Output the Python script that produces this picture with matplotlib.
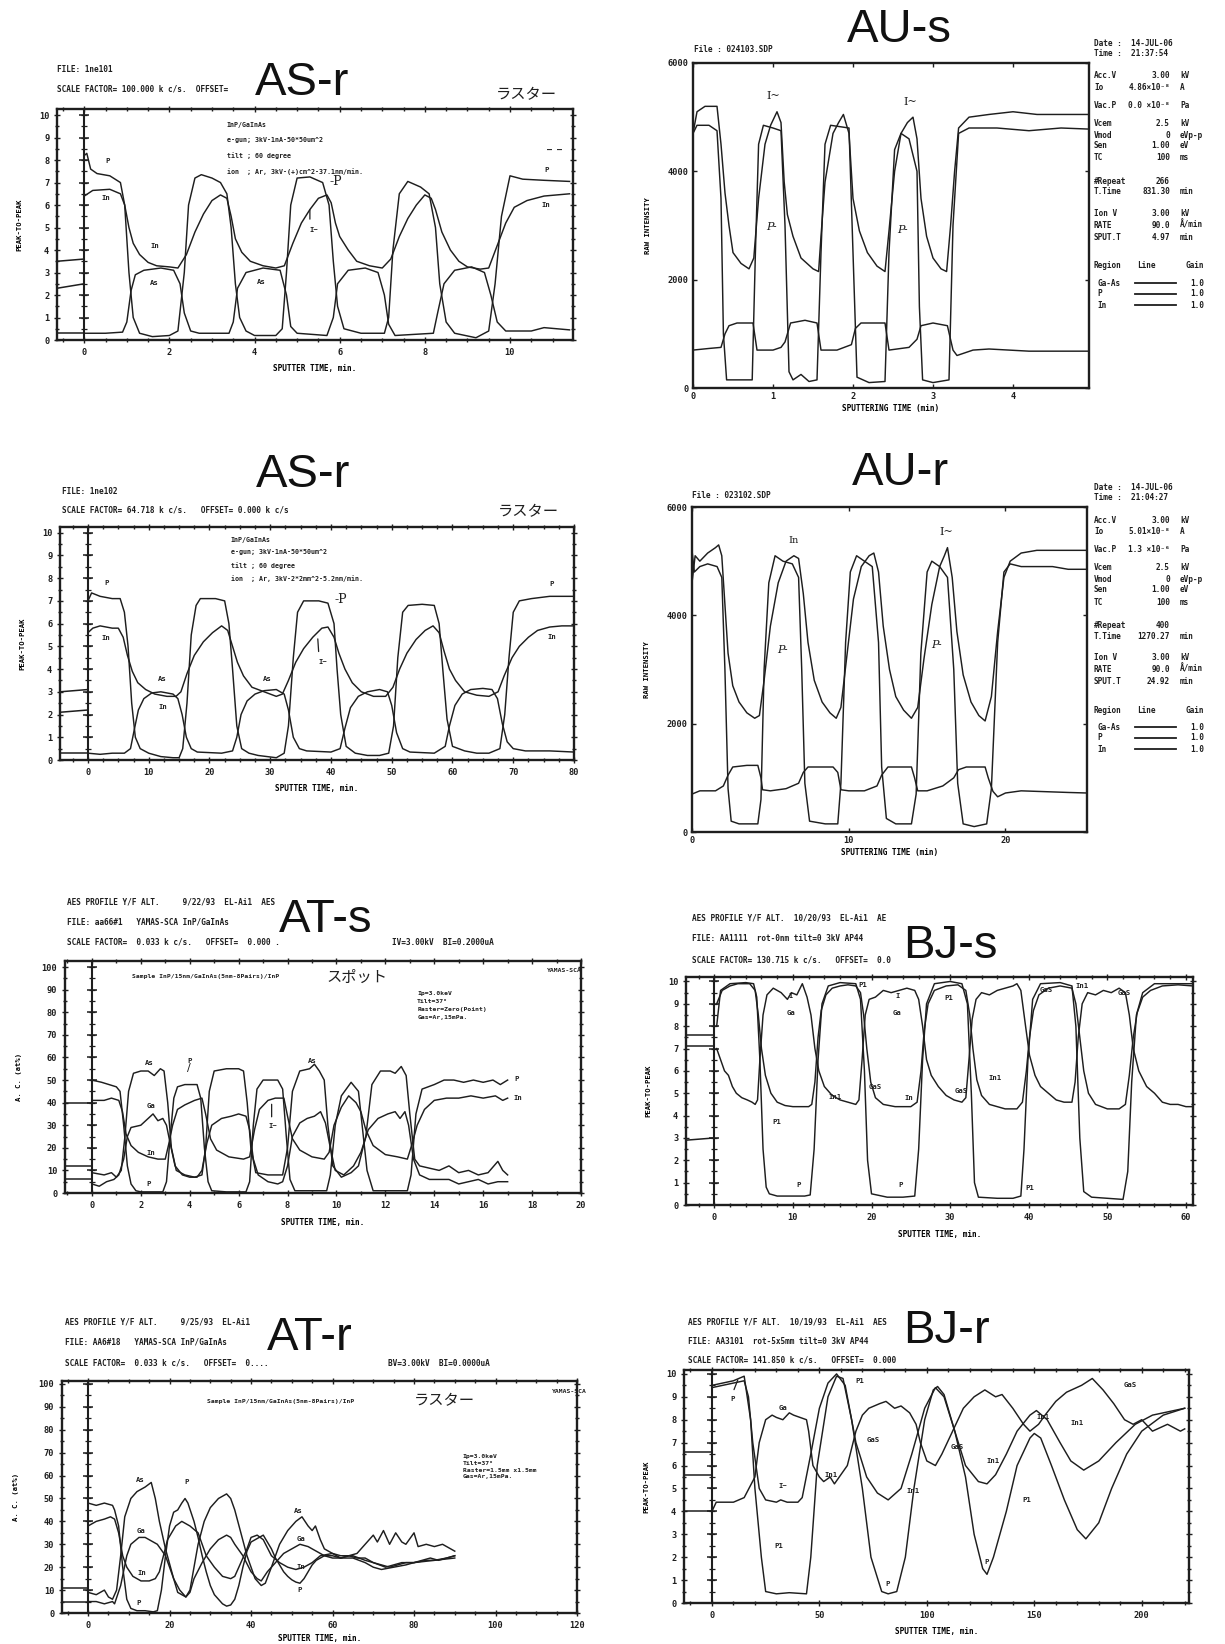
import matplotlib
matplotlib.use("Agg")
import matplotlib.pyplot as plt
from matplotlib.ticker import MultipleLocator, FixedLocator
from matplotlib.lines import Line2D

# ---------------------------------------------------------------- data
# Panel 1  AS-r (raster, min)
p1_pre = [(3.5, 3.6), (2.3, 2.5), (0.3, 0.3)]
p1_P = [(0,8.2),(0.06,8.3),(0.15,7.6),(0.3,7.4),(0.6,7.3),(0.85,7.0),(0.95,6.0),(1.05,3.0),(1.15,1.0),(1.3,0.3),(1.6,0.15),(2.0,0.2),(2.2,0.4),(2.35,3.0),(2.45,6.0),(2.6,7.2),(2.75,7.35),(3.0,7.2),(3.2,7.0),(3.35,6.5),(3.45,5.0),(3.55,2.5),(3.65,1.0),(3.8,0.4),(4.0,0.2),(4.5,0.2),(4.65,0.5),(4.75,3.0),(4.85,6.0),(5.0,7.2),(5.3,7.25),(5.6,7.0),(5.75,6.0),(5.85,3.5),(5.95,1.5),(6.1,0.5),(6.5,0.3),(7.05,0.3),(7.15,1.0),(7.25,4.0),(7.4,6.5),(7.6,7.05),(7.9,6.8),(8.1,6.5),(8.25,5.0),(8.35,2.5),(8.5,0.8),(8.7,0.3),(9.2,0.1),(9.5,0.4),(9.65,2.5),(9.8,5.5),(10.0,7.3),(10.3,7.15),(10.8,7.1),(11.4,7.05)]
p1_In = [(0,6.4),(0.2,6.65),(0.6,6.7),(0.85,6.5),(0.95,6.0),(1.05,5.0),(1.15,4.3),(1.3,3.8),(1.5,3.45),(1.7,3.3),(2.0,3.25),(2.2,3.2),(2.4,3.8),(2.6,4.8),(2.8,5.6),(3.0,6.2),(3.2,6.45),(3.35,6.3),(3.45,5.5),(3.55,4.5),(3.7,3.9),(3.9,3.5),(4.2,3.3),(4.5,3.2),(4.7,3.3),(4.9,4.3),(5.1,5.2),(5.3,5.8),(5.5,6.3),(5.7,6.45),(5.8,6.1),(5.9,5.2),(6.0,4.6),(6.2,4.0),(6.4,3.5),(6.7,3.3),(7.0,3.2),(7.2,3.6),(7.4,4.6),(7.6,5.4),(7.8,6.0),(8.0,6.45),(8.15,6.3),(8.25,5.8),(8.4,4.8),(8.6,4.0),(8.8,3.5),(9.0,3.25),(9.3,3.15),(9.5,3.2),(9.7,4.2),(9.9,5.2),(10.1,5.9),(10.4,6.2),(10.8,6.4),(11.4,6.5)]
p1_As = [(0,0.3),(0.5,0.3),(0.9,0.35),(1.0,0.8),(1.1,2.2),(1.2,2.9),(1.4,3.1),(1.8,3.2),(2.1,3.1),(2.25,2.5),(2.35,1.2),(2.5,0.4),(2.7,0.3),(3.4,0.3),(3.5,0.8),(3.6,2.3),(3.8,3.0),(4.2,3.2),(4.6,3.1),(4.75,2.0),(4.85,0.6),(5.0,0.3),(5.7,0.2),(5.85,1.0),(5.95,2.5),(6.2,3.1),(6.6,3.2),(6.9,3.0),(7.05,2.0),(7.15,0.7),(7.3,0.2),(8.2,0.3),(8.3,1.2),(8.45,2.5),(8.7,3.1),(9.1,3.25),(9.4,3.0),(9.55,2.0),(9.7,0.8),(9.9,0.4),(10.5,0.4),(10.8,0.55),(11.4,0.45)]

# Panel 2  AU-s (min, counts)
p2_In = [(0,4700),(0.05,5100),(0.15,5200),(0.3,5200),(0.35,4500),(0.4,3600),(0.45,3000),(0.5,2500),(0.6,2300),(0.7,2200),(0.76,2400),(0.82,3500),(0.9,4500),(0.97,4850),(1.05,5100),(1.1,4900),(1.14,3800),(1.18,3200),(1.25,2800),(1.35,2400),(1.5,2200),(1.57,2150),(1.6,2800),(1.65,3800),(1.75,4700),(1.82,4900),(1.88,5050),(1.95,4700),(2.0,3500),(2.08,2900),(2.18,2500),(2.3,2250),(2.4,2150),(2.45,2900),(2.52,4000),(2.6,4700),(2.68,4900),(2.75,5000),(2.8,4600),(2.85,3500),(2.92,2800),(3.0,2400),(3.1,2200),(3.17,2150),(3.22,3000),(3.27,4000),(3.32,4800),(3.45,5000),(3.7,5050),(4.0,5100),(4.3,5050),(4.6,5050),(4.95,5050)]
p2_P = [(0,4700),(0.05,4850),(0.2,4850),(0.3,4750),(0.35,3500),(0.38,1000),(0.42,150),(0.6,150),(0.74,150),(0.78,2500),(0.82,4500),(0.88,4850),(1.0,4800),(1.1,4750),(1.15,3000),(1.2,300),(1.25,150),(1.35,250),(1.45,120),(1.55,150),(1.6,2500),(1.65,4500),(1.72,4850),(1.95,4800),(2.0,2500),(2.05,200),(2.2,100),(2.4,120),(2.45,2500),(2.52,4400),(2.6,4700),(2.7,4600),(2.8,4000),(2.83,1500),(2.87,150),(3.0,100),(3.2,150),(3.25,3000),(3.32,4700),(3.45,4800),(3.8,4800),(4.2,4750),(4.6,4800),(4.95,4780)]
p2_GaAs = [(0,700),(0.2,730),(0.35,750),(0.4,1000),(0.45,1150),(0.55,1200),(0.75,1200),(0.8,700),(1.0,700),(1.1,750),(1.15,850),(1.22,1200),(1.4,1250),(1.55,1200),(1.6,700),(1.8,700),(1.98,800),(2.03,1100),(2.1,1200),(2.4,1200),(2.45,700),(2.7,750),(2.8,900),(2.85,1150),(3.0,1200),(3.18,1150),(3.25,700),(3.3,600),(3.5,700),(3.7,720),(4.2,680),(4.95,680)]

# Panel 3  AS-r (raster, 80 min)
p3_pre = [(3.0, 3.1), (2.1, 2.2), (0.3, 0.3)]
p3_P = [(0,7.0),(0.6,7.35),(2,7.2),(4,7.1),(5.3,7.1),(6,6.5),(6.6,5.0),(7.2,2.5),(7.8,1.0),(8.6,0.5),(10,0.3),(12,0.15),(14,0.1),(15,0.1),(15.6,0.5),(16.3,2.5),(17,5.5),(17.8,6.8),(18.5,7.1),(21,7.1),(22.5,7.0),(23.2,6.0),(23.8,4.0),(24.5,1.5),(25.3,0.5),(26.5,0.3),(28,0.2),(31,0.1),(32.3,0.3),(33,1.5),(33.8,4.5),(34.5,6.5),(35.5,7.0),(38,7.0),(39.5,6.9),(40.5,6.0),(41,4.0),(41.6,2.0),(42.5,0.6),(44,0.3),(46,0.2),(48,0.2),(49.5,0.3),(50.3,1.5),(51,4.5),(51.8,6.5),(52.7,6.8),(55,6.85),(57,6.8),(57.8,6.0),(58.4,4.0),(59.1,1.8),(60,0.6),(62,0.4),(64,0.3),(66,0.3),(67.8,0.5),(68.6,2.0),(69.3,4.5),(70,6.5),(71,7.0),(73,7.1),(76,7.2),(78,7.2),(80,7.2)]
p3_In = [(0,5.6),(0.8,5.8),(2,5.9),(4,5.8),(5,5.8),(5.8,5.4),(6.5,4.6),(7.3,3.9),(8.2,3.4),(9.5,3.1),(11,2.9),(13,2.8),(14.5,2.8),(15.3,3.0),(16.3,3.8),(17.5,4.6),(19,5.2),(20.5,5.6),(22,5.9),(23,5.7),(23.8,5.0),(24.6,4.3),(25.6,3.7),(27,3.2),(29,3.0),(31,2.8),(32,2.9),(33,3.5),(34.2,4.3),(35.5,4.9),(37,5.4),(38.5,5.8),(39.5,5.85),(40.5,5.4),(41.3,4.7),(42.3,4.0),(43.5,3.4),(45,3.0),(47,2.8),(49,2.8),(50.2,3.2),(51.3,4.0),(52.5,4.7),(54,5.3),(55.5,5.7),(56.8,5.9),(57.8,5.6),(58.6,4.8),(59.5,4.0),(60.5,3.5),(62,3.0),(64,2.85),(66,2.8),(67.5,3.0),(68.5,3.7),(69.8,4.5),(71,5.0),(72.5,5.4),(74,5.7),(76,5.85),(78,5.9),(80,5.9)]
p3_As = [(0,0.3),(2,0.25),(4,0.3),(6,0.3),(7,0.5),(7.6,1.3),(8.3,2.2),(9.2,2.7),(10.5,2.95),(12,3.0),(14,2.9),(14.8,2.7),(15.5,2.0),(16.2,1.0),(17,0.5),(18,0.35),(22,0.3),(23.8,0.4),(24.5,1.0),(25.2,2.0),(26.2,2.6),(27.5,2.9),(29,3.05),(31,3.1),(32.3,2.9),(33,2.2),(33.8,1.0),(34.8,0.5),(36,0.4),(40,0.35),(41.5,0.5),(42.3,1.4),(43.2,2.3),(44.5,2.8),(46,3.0),(48,3.1),(49.3,3.0),(50,2.4),(50.8,1.2),(51.8,0.5),(53,0.35),(57,0.3),(58.8,0.6),(59.5,1.5),(60.4,2.4),(61.6,2.9),(63,3.1),(65,3.15),(66.5,3.1),(67.4,2.7),(68.2,1.6),(69,0.8),(70,0.5),(72,0.4),(76,0.4),(80,0.35)]

# Panel 4  AU-r (min, counts)
p4_In = [(0,4600),(0.2,5100),(0.5,5000),(1.0,5150),(1.5,5250),(1.7,5300),(1.9,5100),(2.1,4200),(2.3,3300),(2.6,2700),(3.0,2400),(3.5,2200),(4.0,2100),(4.3,2150),(4.6,2800),(5.0,3800),(5.5,4600),(6.0,5000),(6.5,5100),(6.8,5050),(7.1,4400),(7.4,3500),(7.8,2800),(8.3,2400),(8.8,2200),(9.2,2100),(9.5,2300),(9.9,3300),(10.3,4300),(10.8,4900),(11.3,5100),(11.6,5150),(11.9,4800),(12.2,3800),(12.6,3000),(13.0,2500),(13.5,2250),(14.0,2100),(14.4,2300),(14.8,3200),(15.3,4200),(15.8,4900),(16.1,5100),(16.3,5250),(16.6,4700),(16.9,3700),(17.3,2900),(17.8,2400),(18.3,2150),(18.7,2050),(19.1,2500),(19.5,3700),(19.9,4700),(20.3,5000),(21,5150),(22,5200),(23,5200),(24,5200),(25.2,5200)]
p4_P = [(0,5200),(0.15,4800),(0.5,4900),(1.0,4950),(1.6,4900),(1.9,4700),(2.1,3000),(2.3,800),(2.5,200),(3,150),(3.5,150),(4.2,150),(4.4,600),(4.6,3000),(4.9,4600),(5.3,5100),(5.8,5000),(6.4,4950),(6.8,4700),(7.0,3000),(7.2,900),(7.5,200),(8.5,150),(9.3,150),(9.5,900),(9.8,3500),(10.1,4800),(10.5,5100),(11.0,5000),(11.5,4900),(11.9,3500),(12.1,1200),(12.4,250),(13,150),(14,150),(14.3,700),(14.6,3300),(15.0,4800),(15.3,5000),(15.8,4900),(16.3,4700),(16.7,3000),(16.95,900),(17.3,150),(18,100),(18.8,150),(19.1,800),(19.5,3500),(19.9,4800),(20.3,4950),(21,4900),(22,4900),(23,4900),(24,4850),(25.2,4850)]
p4_GaAs = [(0,700),(0.5,760),(1.5,760),(2.0,850),(2.3,1050),(2.6,1200),(3.5,1230),(4.2,1230),(4.4,1000),(4.5,780),(5,760),(6,800),(6.8,900),(7.1,1100),(7.4,1200),(9.0,1200),(9.3,1100),(9.5,780),(10,760),(11,760),(11.8,850),(12.1,1050),(12.5,1200),(14,1200),(14.2,1000),(14.4,760),(15,760),(16,850),(16.7,1000),(17,1150),(17.5,1200),(18.7,1200),(18.9,1000),(19.2,750),(19.5,650),(20,720),(21,760),(22,750),(23,740),(24,730),(25.2,720)]

# Panel 5  AT-s (spot, at%)
p5_pre = [(40, 40), (12, 12), (6, 6)]
p5_P = [(0,50),(0.4,49),(0.7,48),(1.0,47),(1.15,45),(1.3,30),(1.45,12),(1.6,4),(1.8,1),(2.0,0.5),(2.9,0.5),(3.05,5),(3.2,25),(3.35,42),(3.5,47),(3.8,48),(4.3,48),(4.45,42),(4.6,20),(4.75,5),(4.9,1),(5.5,0.5),(6.3,0.5),(6.45,5),(6.6,30),(6.75,46),(7.0,50),(7.6,50),(7.8,46),(7.95,25),(8.1,6),(8.3,1),(9.6,1),(9.75,8),(9.95,30),(10.2,43),(10.6,49),(10.9,45),(11.05,30),(11.25,10),(11.5,1),(12.9,1),(13.05,8),(13.25,35),(13.5,46),(14.0,48),(14.4,50),(14.8,50),(15.2,49),(15.6,50),(16.0,49),(16.4,50),(16.7,48),(17,50)]
p5_In = [(0,41),(0.5,41),(0.8,42),(1.1,41),(1.25,36),(1.4,26),(1.6,21),(1.9,18),(2.3,16),(2.7,15),(3.0,15),(3.15,22),(3.3,30),(3.5,37),(3.8,39),(4.2,41),(4.5,42),(4.65,35),(4.85,24),(5.1,19),(5.6,16),(6.2,15),(6.45,16),(6.65,28),(6.85,37),(7.2,41),(7.5,42),(7.85,42),(8.0,34),(8.2,24),(8.5,19),(9.0,16),(9.5,15),(9.7,18),(9.9,30),(10.2,38),(10.5,43),(10.8,40),(11.0,36),(11.2,28),(11.5,21),(12,17),(12.5,16),(12.9,15),(13.1,22),(13.3,30),(13.6,37),(14,41),(14.5,42),(15,42),(15.5,43),(16,42),(16.5,43),(16.8,41),(17,42)]
p5_As = [(0,9),(0.5,8),(0.8,9),(1.0,7),(1.2,10),(1.35,25),(1.5,45),(1.7,53),(2.0,54),(2.3,54),(2.55,52),(2.8,55),(2.95,54),(3.1,40),(3.25,20),(3.45,10),(3.8,8),(4.2,7),(4.5,8),(4.65,20),(4.8,45),(5.0,54),(5.5,55),(6.0,55),(6.2,54),(6.35,40),(6.5,20),(6.7,9),(7.2,8),(7.8,8),(8.0,20),(8.2,45),(8.5,54),(8.9,55),(9.1,57),(9.3,54),(9.5,50),(9.65,30),(9.85,12),(10.2,7),(10.6,9),(10.9,12),(11.2,25),(11.45,48),(11.8,54),(12.2,54),(12.4,53),(12.65,56),(12.85,52),(13.0,35),(13.2,15),(13.4,12),(13.8,11),(14.2,10),(14.6,12),(15.0,9),(15.4,10),(15.8,8),(16.2,9),(16.6,14),(16.8,10),(17,8)]
p5_Ga = [(0,4),(0.3,3),(0.6,5),(0.9,6),(1.1,8),(1.3,15),(1.45,25),(1.6,29),(2.0,30),(2.3,33),(2.5,35),(2.7,32),(2.9,33),(3.05,30),(3.2,22),(3.4,12),(3.7,8),(4.0,7),(4.3,7),(4.5,10),(4.7,22),(4.9,30),(5.3,33),(5.7,34),(6.0,35),(6.3,34),(6.45,28),(6.6,15),(6.8,8),(7.2,5),(7.6,4),(7.8,5),(8.0,12),(8.2,25),(8.5,31),(8.8,33),(9.1,34),(9.35,36),(9.55,31),(9.75,20),(9.95,10),(10.3,8),(10.7,12),(11.0,18),(11.3,28),(11.7,33),(12.1,35),(12.4,36),(12.6,33),(12.8,36),(12.95,30),(13.15,15),(13.4,8),(13.8,6),(14.2,6),(14.6,6),(15.0,4),(15.4,5),(15.8,6),(16.2,4),(16.6,5),(17,5)]

# Panel 6  BJ-s (spot)
p6_pre = [(7.6, 7.6), (7.1, 7.1), (2.9, 3.0)]
p6_P = [(0.3,8.0),(0.8,9.6),(2,9.9),(4,9.95),(5,9.9),(5.4,9.3),(5.8,6.5),(6.2,2.5),(6.6,0.8),(7,0.5),(8,0.4),(10,0.4),(11.5,0.4),(12.2,0.45),(12.7,2.5),(13.2,6.5),(13.7,9.0),(14.5,9.8),(16,9.95),(18,9.9),(18.6,9.2),(19.1,6.0),(19.5,2.0),(20,0.5),(22,0.35),(24,0.35),(25.5,0.4),(26,2.5),(26.5,6.5),(27,9.0),(28,9.9),(30,10),(31.5,9.9),(32.2,9.0),(32.7,5.0),(33.1,1.0),(33.6,0.35),(36,0.3),(38,0.3),(39,0.4),(39.4,2.5),(39.9,6.5),(40.5,9.2),(41.5,9.9),(44,9.95),(45.5,9.8),(46,8.0),(46.5,3.0),(47,0.6),(48,0.35),(50,0.3),(52,0.25),(52.6,1.5),(53.1,5.5),(53.7,8.5),(54.5,9.5),(56,9.9),(58,9.9),(60.9,9.9)]
p6_In = [(0.3,9.0),(1,9.6),(2,9.8),(3,9.9),(4.5,9.9),(5.2,9.6),(5.6,8.5),(6.0,7.0),(6.5,5.8),(7.2,5.0),(8,4.6),(9,4.45),(10,4.4),(11,4.4),(12,4.4),(12.4,4.5),(12.8,5.5),(13.2,7.5),(13.6,8.7),(14.2,9.4),(15,9.7),(16,9.8),(17,9.85),(18,9.8),(18.6,9.5),(19,8.5),(19.4,7.0),(19.9,5.5),(20.5,4.8),(21.5,4.5),(23,4.4),(25,4.4),(25.8,4.6),(26.3,6.0),(26.7,7.8),(27.2,9.0),(28,9.6),(29.5,9.8),(31,9.85),(32,9.6),(32.5,8.5),(32.9,7.0),(33.4,5.6),(34,4.9),(35,4.5),(37,4.3),(38.5,4.3),(39.2,4.6),(39.7,6.0),(40.1,7.5),(40.6,8.7),(41.3,9.4),(42.5,9.7),(44,9.8),(45.5,9.7),(46,9.0),(46.5,7.5),(47,6.0),(47.6,5.0),(48.5,4.5),(50,4.3),(51.5,4.3),(52.3,4.5),(52.8,5.8),(53.3,7.5),(53.8,8.6),(54.5,9.3),(55.5,9.6),(57,9.8),(59,9.85),(60.9,9.8)]
p6_Ga = [(0.3,7.0),(0.8,6.5),(1.3,6.0),(1.8,5.8),(2.3,5.3),(2.8,5.0),(3.5,4.8),(4.2,4.7),(4.8,4.6),(5.2,4.5),(5.5,4.7),(5.8,6.5),(6.2,8.5),(6.7,9.4),(7.5,9.7),(8.5,9.5),(9.3,9.2),(9.8,9.5),(10.5,9.4),(11.2,9.9),(11.8,9.3),(12.3,8.5),(12.8,7.0),(13.3,6.0),(14,5.3),(15,4.9),(16,4.7),(17,4.6),(18,4.5),(18.4,4.7),(18.8,6.5),(19.2,8.5),(19.7,9.2),(20.5,9.3),(21.5,9.6),(22.5,9.5),(23.5,9.6),(24.5,9.7),(25.5,9.6),(26,9.2),(26.5,8.0),(27,6.5),(27.6,5.8),(28.5,5.3),(29.5,4.9),(30.5,4.7),(31.5,4.6),(32,4.8),(32.4,6.5),(32.8,8.3),(33.3,9.2),(34,9.5),(35,9.4),(36,9.6),(37,9.7),(38,9.8),(38.5,9.9),(39,9.6),(39.6,8.0),(40.1,6.7),(40.8,5.8),(41.5,5.3),(42.5,5.0),(43.5,4.7),(44.5,4.6),(45.5,4.6),(45.9,5.5),(46.3,7.5),(46.8,9.0),(47.5,9.5),(48.5,9.4),(49.5,9.6),(50.5,9.5),(51.5,9.7),(52.3,9.5),(52.8,8.5),(53.3,7.0),(54,6.0),(55,5.3),(56,5.0),(57,4.6),(58,4.5),(59,4.5),(60,4.4),(60.9,4.4)]

# Panel 7  AT-r (raster, at%)
p7_pre = [(11, 11), (5, 5)]
p7_P = [(0,48),(2,47),(4,48),(6,47),(6.5,45),(7.5,38),(8.5,20),(9.5,6),(10.5,2),(12,1),(14,1),(16,0.5),(17,1),(18,10),(19,25),(20,38),(21,44),(22,45),(23,48),(23.8,50),(24.5,48),(26,40),(27,33),(28,25),(29,18),(30,12),(31,8),(32,6),(33,4),(34,3),(35,3.5),(36,6),(37,12),(38,20),(39,27),(40,31),(41,32),(42,33),(43,34),(44,31),(45,28),(46,24),(47,21),(48,18),(49,16),(50,14.5),(51,13.5),(52,13),(53,15),(54,18),(55,21),(56,23),(57,24),(58,25),(60,25),(62,24),(64,25),(66,24),(68,24),(70,22),(72,21),(74,20),(76,21),(78,22),(80,22),(82,23),(84,24),(86,23),(88,24),(90,25)]
p7_In = [(0,38),(2,40),(4,41),(5.5,42),(6.5,41),(7.5,35),(8.5,25),(9.5,20),(11,16),(13,14),(15,14),(16.5,15),(17.5,18),(18.5,25),(19.5,32),(21.5,38),(23,40),(25,38),(27,35),(28,30),(29,25),(31,20),(33,16),(35,15),(36,16),(37,20),(39,28),(40,33),(41.5,34),(43,32),(45,25),(47,22),(49,20),(51,19),(53,20),(55,22),(57,25),(60,26),(62,25),(65,25),(68,23),(70,22),(73,20),(75,21),(77,22),(80,22),(83,23),(85,23),(88,24),(90,25)]
p7_As = [(0,9),(2,8),(4,10),(5,7),(6,6),(7,10),(8,25),(9,42),(10.5,50),(12,53),(14,55),(15.5,57),(16.5,50),(17.5,40),(19,28),(21,15),(22,9),(23,8),(24,7),(25,10),(26,20),(27,30),(28.5,40),(30,46),(32,50),(34,52),(35,50),(36,45),(37.5,35),(39,25),(41,15),(42.5,12),(43.5,13),(45,20),(47,30),(49,36),(51,40),(52.5,42),(54,38),(55,36),(55.8,38),(57,32),(58,28),(60,26),(62,24),(64,25),(66,26),(68,30),(70,34),(71,31),(72.5,36),(74,30),(75.5,35),(77,31),(78,30),(80,35),(81,29),(83,30),(85,29),(87,30),(90,27)]
p7_Ga = [(0,5),(2,5),(4,4),(6,5),(6.5,4),(8,12),(9.5,25),(10.5,30),(12.5,33),(14,33),(15,32),(17,30),(19,25),(21,15),(22.5,10),(24,7),(25,9),(26,15),(28,22),(30,28),(32,32),(34,34),(35,33),(36,30),(38,25),(40,18),(41.5,15),(42.5,14),(44,18),(46,22),(48,26),(50,28),(52,30),(54,29),(56,27),(58,25),(60,24),(65,24),(68,22),(70,20),(72,19),(75,20),(78,21),(80,22),(85,23),(90,24)]

# Panel 8  BJ-r (raster)
p8_pre = [(6.6, 6.6), (5.6, 5.6), (4.0, 4.0)]
p8_P = [(0,9.5),(5,9.6),(10,9.7),(15,9.9),(18,8.0),(20,5.0),(23,2.0),(25,0.5),(30,0.4),(36,0.45),(44,0.4),(46,2.0),(49,6.0),(54,9.0),(58,9.9),(61,9.8),(65,8.0),(70,5.0),(74,2.0),(79,0.5),(82,0.4),(86,0.5),(90,2.0),(94,5.0),(99,8.0),(103,9.3),(105,9.45),(108,9.1),(113,7.5),(118,5.5),(122,3.0),(126,1.5),(128,1.25),(131,2.0),(137,4.0),(142,6.0),(148,7.2),(150,7.4),(153,7.2),(158,6.0),(164,4.5),(170,3.2),(174,2.8),(180,3.5),(186,5.0),(193,6.5),(200,7.5),(210,8.2),(220,8.5)]
p8_In = [(0,9.4),(5,9.5),(10,9.6),(15,9.7),(17,9.0),(19,7.0),(22,5.0),(25,4.5),(30,4.4),(32,4.5),(35,4.4),(40,4.4),(42,4.6),(46,6.5),(50,8.5),(54,9.6),(58,10.0),(62,9.5),(67,7.0),(72,5.5),(77,4.8),(82,4.5),(88,5.0),(93,6.5),(99,8.5),(104,9.4),(108,9.0),(113,7.5),(118,6.0),(124,5.3),(128,5.2),(132,5.6),(137,6.5),(142,7.5),(148,8.2),(151,8.4),(156,8.0),(162,7.0),(167,6.2),(173,5.8),(180,6.2),(188,7.0),(197,7.8),(205,8.2),(215,8.4),(220,8.5)]
p8_Ga = [(0,4.0),(2,4.4),(10,4.4),(15,4.6),(20,5.5),(22,7.0),(25,8.0),(28,8.2),(30,8.1),(33,8.0),(36,8.3),(38,8.2),(41,8.1),(44,8.0),(45,7.5),(47,6.0),(50,5.5),(52,5.3),(55,5.5),(57,5.2),(60,5.6),(63,6.0),(67,7.5),(70,8.2),(73,8.5),(78,8.7),(81,8.8),(85,8.5),(88,8.6),(92,8.3),(95,7.8),(97,7.0),(100,6.2),(104,6.0),(107,6.5),(112,7.5),(117,8.5),(122,9.0),(127,9.3),(132,9.0),(135,9.1),(140,8.5),(145,7.8),(148,7.5),(152,7.8),(155,8.2),(160,8.8),(165,9.2),(172,9.5),(177,9.8),(182,9.3),(187,8.7),(192,8.0),(196,7.8),(200,8.0),(205,7.5),(212,7.8),(218,7.5),(220,7.6)]

# right-hand parameter columns of the AU panels
au_s_params = [("Acc.V", "3.00", "kV"), ("Io", "4.86×10⁻⁸", "A"), ("Vac.P", "0.0 ×10⁻⁸", "Pa"),
               ("Vcem", "2.5", "kV"), ("Vmod", "0", "eVp-p"), ("Sen", "1.00", "eV"), ("TC", "100", "ms"),
               ("#Repeat", "266", ""), ("T.Time", "831.30", "min"),
               ("Ion V", "3.00", "kV"), ("RATE", "90.0", "Å/min"), ("SPUT.T", "4.97", "min")]
au_r_params = [("Acc.V", "3.00", "kV"), ("Io", "5.01×10⁻⁸", "A"), ("Vac.P", "1.3 ×10⁻⁶", "Pa"),
               ("Vcem", "2.5", "kV"), ("Vmod", "0", "eVp-p"), ("Sen", "1.00", "eV"), ("TC", "100", "ms"),
               ("#Repeat", "400", ""), ("T.Time", "1270.27", "min"),
               ("Ion V", "3.00", "kV"), ("RATE", "90.0", "Å/min"), ("SPUT.T", "24.92", "min")]
region_rows = [("Ga-As", "1.0"), ("P", "1.0"), ("In", "1.0")]

# ---------------------------------------------------------------- drawing
W, H = 1225, 1644
fig = plt.figure(figsize=(W / 100, H / 100), dpi=100)
fig.patch.set_facecolor("white")
INK = "#1e1e1e"
MONO = "DejaVu Sans Mono"
JP = ["Noto Sans CJK JP", "DejaVu Sans"]
TITLE = "Liberation Sans"


def ftext(x, y, s, size=5.6, ha="left", va="center", family=MONO, weight="bold", **kw):
    fig.text(x / W, 1 - y / H, s, fontsize=size, ha=ha, va=va, family=family,
             weight=weight, color=INK, **kw)


def title(x, y, s):
    fig.text(x / W, 1 - y / H, s, fontsize=34, ha="left", va="baseline",
             family=TITLE, color="#111111")


def make_axes(L, T, R, B, xlim, ylim, xmaj, ymaj, xmin, ymin, zero=True, pre=None):
    ax = fig.add_axes([L / W, 1 - B / H, (R - L) / W, (B - T) / H])
    ax.set_xlim(*xlim)
    ax.set_ylim(*ylim)
    for s in ax.spines.values():
        s.set_linewidth(1.7)
        s.set_color(INK)
    ax.xaxis.set_major_locator(FixedLocator(xmaj))
    ax.yaxis.set_major_locator(FixedLocator(ymaj))
    if xmin:
        ax.xaxis.set_minor_locator(MultipleLocator(xmin))
    if ymin:
        ax.yaxis.set_minor_locator(MultipleLocator(ymin))
    ax.tick_params(which="both", direction="inout", top=True, right=True, color=INK, width=1.0)
    ax.tick_params(which="major", length=5, labelsize=6.2, pad=3)
    ax.tick_params(which="minor", length=3)
    for lab in ax.get_xticklabels() + ax.get_yticklabels():
        lab.set_family(MONO)
        lab.set_weight("bold")
        lab.set_color(INK)
    if zero:
        ax.axvline(0, color=INK, lw=1.5)
        yt = list(ymaj)
        ax.plot([0] * len(yt), yt, ls="none", marker="_", ms=7, mew=1.1, color=INK)
        if ymin:
            ym = [v * ymin for v in range(int(ylim[1] / ymin) + 1)]
            ax.plot([0] * len(ym), ym, ls="none", marker="_", ms=4, mew=0.9, color=INK)
    if pre:
        for a, b in pre:
            ax.plot([xlim[0], 0], [a, b], color=INK, lw=1.1)
    return ax


def curve(ax, pts, lw=1.05, ls="-"):
    xs = [p[0] for p in pts]
    ys = [p[1] for p in pts]
    ax.plot(xs, ys, color=INK, lw=lw, ls=ls, solid_joinstyle="round")


def lab(ax, x, y, s, size=5.2, **kw):
    ax.text(x, y, s, fontsize=size, family=MONO, weight="bold", color=INK,
            ha="center", va="center", **kw)


def leader(ax, xy0, xy1):
    ax.annotate("", xy=xy1, xytext=xy0, arrowprops=dict(arrowstyle="-", color=INK, lw=0.9))


def axlabels(ax, xl, yl, xpad, ypad=12):
    ax.set_xlabel(xl, fontsize=5.6, family=MONO, weight="bold", labelpad=xpad)
    ax.set_ylabel(yl, fontsize=5.2, family=MONO, weight="bold", labelpad=ypad)


# ---------------- Panel 1 : AS-r (top left)
ax1 = make_axes(57, 109, 573, 340, (-0.64, 11.48), (0, 10.27), [0, 2, 4, 6, 8, 10],
                list(range(11)), 0.5, 0.5, pre=p1_pre)
for c in (p1_P, p1_In, p1_As):
    curve(ax1, c)
lab(ax1, 0.55, 7.95, "P"); lab(ax1, 0.5, 6.3, "In"); lab(ax1, 1.65, 4.2, "In")
lab(ax1, 1.65, 2.55, "As"); lab(ax1, 4.15, 2.6, "As"); lab(ax1, 5.4, 4.9, "I~")
leader(ax1, (5.3, 5.25), (5.3, 5.9))
ax1.text(5.75, 7.05, "-P", fontsize=9, family="DejaVu Serif", color=INK, va="center")
lab(ax1, 10.85, 7.55, "P"); lab(ax1, 10.85, 6.0, "In"); lab(ax1, 11.05, 8.45, "— —", size=6)
for i, s in enumerate(["InP/GaInAs", "e-gun; 3kV-1nA-50*50um^2", "tilt ; 60 degree",
                       "ion  ; Ar, 3kV-(+)cm^2-37.1nm/min."]):
    ax1.text(3.35, 9.55 - i * 0.68, s, fontsize=4.8, family=MONO, weight="bold", color=INK, va="center")
axlabels(ax1, "SPUTTER TIME, min.", "PEAK-TO-PEAK", 5)
ftext(57, 70, "FILE: 1ne101")
ftext(57, 89, "SCALE FACTOR= 100.000 k c/s.  OFFSET=")
title(255, 95, "AS-r")
ftext(496, 95, "ラスター", size=11, family=JP, weight="normal")

# ---------------- Panel 2 : AU-s (top right)
ax2 = make_axes(693, 63, 1089, 388, (0, 4.95), (0, 6000), [0, 1, 2, 3, 4],
                [0, 2000, 4000, 6000], None, None, zero=False)
ax2.tick_params(which="both", direction="in", length=3)
for c in (p2_In, p2_P, p2_GaAs):
    curve(ax2, c)
ax2.text(1.0, 5330, "I~", fontsize=8, family="DejaVu Serif", color=INK, ha="center")
ax2.text(2.72, 5230, "I~", fontsize=8, family="DejaVu Serif", color=INK, ha="center")
ax2.text(0.98, 2920, "P-", fontsize=8, family="DejaVu Serif", color=INK, ha="center", style="italic")
ax2.text(2.62, 2860, "P-", fontsize=8, family="DejaVu Serif", color=INK, ha="center", style="italic")
axlabels(ax2, "SPUTTERING TIME (min)", "RAW INTENSITY", 2)
ftext(694, 49, "File : 024103.SDP")
title(847, 42, "AU-s")


def params_block(y0, date, time, params, rows):
    ftext(1094, y0, "Date :  " + date)
    ftext(1094, y0 + 10, "Time :  " + time)
    ys = [33, 44, 62, 80, 92, 103, 115, 138, 149, 170, 182, 194]
    for (name, val, unit), dy in zip(params, ys):
        ftext(1094, y0 + dy, name)
        ftext(1170, y0 + dy, val, ha="right")
        ftext(1180, y0 + dy, unit)
    ftext(1094, y0 + 223, "Region")
    ftext(1137, y0 + 223, "Line")
    ftext(1186, y0 + 223, "Gain")
    for i, (name, g) in enumerate(rows):
        yy = y0 + 240 + i * 11
        ftext(1097, yy, name)
        fig.add_artist(Line2D([1135 / W, 1176 / W], [1 - yy / H, 1 - yy / H], color=INK, lw=1.3))
        ftext(1190, yy, g)


params_block(43, "14-JUL-06", "21:37:54", au_s_params, region_rows)

# ---------------- Panel 3 : AS-r (second row left)
ax3 = make_axes(60, 527, 574, 760, (-4.6, 80), (0, 10.25), list(range(0, 81, 10)),
                list(range(11)), 2.5, 0.5, pre=p3_pre)
for c in (p3_P, p3_In, p3_As):
    curve(ax3, c)
lab(ax3, 3.0, 7.8, "P"); lab(ax3, 3.0, 5.35, "In"); lab(ax3, 12.3, 3.55, "As")
lab(ax3, 12.3, 2.35, "In"); lab(ax3, 29.5, 3.55, "As"); lab(ax3, 38.6, 4.3, "I~")
leader(ax3, (38.0, 4.65), (37.8, 5.45))
ax3.text(40.6, 7.05, "-P", fontsize=9, family="DejaVu Serif", color=INK, va="center")
lab(ax3, 76.3, 7.75, "P"); lab(ax3, 76.3, 5.4, "In")
for i, s in enumerate(["InP/GaInAs", "e-gun; 3kV-1nA-50*50um^2", "tilt ; 60 degree",
                       "ion  ; Ar, 3kV-2*2mm^2-5.2nm/min."]):
    ax3.text(23.5, 9.7 - i * 0.57, s, fontsize=4.8, family=MONO, weight="bold", color=INK, va="center")
axlabels(ax3, "SPUTTER TIME, min.", "PEAK-TO-PEAK", 5)
ftext(62, 491, "FILE: 1ne102")
ftext(62, 510, "SCALE FACTOR= 64.718 k c/s.   OFFSET= 0.000 k c/s")
title(256, 487, "AS-r")
ftext(498, 512, "ラスター", size=11, family=JP, weight="normal")

# ---------------- Panel 4 : AU-r (second row right)
ax4 = make_axes(692, 507, 1087, 832, (0, 25.2), (0, 6000), [0, 10, 20],
                [0, 2000, 4000, 6000], None, None, zero=False)
ax4.tick_params(which="both", direction="in", length=3)
for c in (p4_In, p4_P, p4_GaAs):
    curve(ax4, c)
ax4.text(6.5, 5330, "In", fontsize=7, family="DejaVu Serif", color=INK, ha="center")
ax4.text(16.2, 5480, "I~", fontsize=8, family="DejaVu Serif", color=INK, ha="center")
ax4.text(5.8, 3300, "P-", fontsize=8, family="DejaVu Serif", color=INK, ha="center", style="italic")
ax4.text(15.6, 3400, "P-", fontsize=8, family="DejaVu Serif", color=INK, ha="center", style="italic")
axlabels(ax4, "SPUTTERING TIME (min)", "RAW INTENSITY", 2)
ftext(692, 495, "File : 023102.SDP")
title(852, 485, "AU-r")
params_block(487, "14-JUL-06", "21:04:27", au_r_params, region_rows)

# ---------------- Panel 5 : AT-s (third row left)
ax5 = make_axes(65, 961, 581, 1193, (-1.1, 20), (0, 102.7), list(range(0, 21, 2)),
                list(range(0, 101, 10)), 1, 5, pre=p5_pre)
for c in (p5_P, p5_In, p5_As, p5_Ga):
    curve(ax5, c)
lab(ax5, 2.35, 57.5, "As"); lab(ax5, 2.4, 38.5, "Ga"); lab(ax5, 2.4, 17.5, "In")
lab(ax5, 2.3, 3.8, "P"); lab(ax5, 9.0, 58.5, "As"); lab(ax5, 7.4, 29.5, "I~")
leader(ax5, (7.35, 32.5), (7.35, 40.5))
ax5.text(3.95, 54, "/", fontsize=8, color=INK, ha="center")
lab(ax5, 4.0, 58.5, "P"); lab(ax5, 17.35, 50.5, "P"); lab(ax5, 17.4, 42, "In")
ax5.text(1.65, 95.8, "Sample InP/15nm/GaInAs(5nm-8Pairs)/InP", fontsize=4.6, family=MONO,
         weight="bold", color=INK, va="center")
ax5.text(9.6, 95.3, "スポット", fontsize=11, family=JP, color=INK, va="center")
ax5.text(18.6, 98.3, "YAMAS-SCA", fontsize=4.6, family=MONO, weight="bold", color=INK, va="center")
for i, s in enumerate(["Ip=3.0keV", "Tilt=37°", "Raster=Zero(Point)", "Gas=Ar,15mPa."]):
    ax5.text(13.3, 88.5 - i * 3.6, s, fontsize=4.6, family=MONO, weight="bold", color=INK, va="center")
axlabels(ax5, "SPUTTER TIME, min.", "A. C. (at%)", 6, 14)
ftext(67, 902, "AES PROFILE Y/F ALT.     9/22/93  EL-Ai1  AES")
ftext(67, 922, "FILE: aa66#1   YAMAS-SCA InP/GaInAs")
ftext(67, 942, "SCALE FACTOR=  0.033 k c/s.   OFFSET=  0.000 .")
ftext(392, 942, "IV=3.00kV  BI=0.2000uA")
title(279, 932, "AT-s")

# ---------------- Panel 6 : BJ-s (third row right)
ax6 = make_axes(686, 977, 1193, 1205, (-3.6, 60.9), (0, 10.2), list(range(0, 61, 10)),
                list(range(11)), 2, 0.5, pre=p6_pre)
for c in (p6_P, p6_In, p6_Ga):
    curve(ax6, c)
for (x, y, s) in [(9.7, 9.35, "I"), (9.7, 8.6, "Ga"), (23.3, 9.35, "I"), (23.3, 8.6, "Ga"),
                  (18.9, 9.85, "P1"), (29.8, 9.25, "P1"), (42.2, 9.6, "GaS"), (46.8, 9.8, "In1"),
                  (52.2, 9.5, "GaS"), (15.4, 4.85, "In1"), (20.5, 5.3, "GaS"), (24.8, 4.8, "In"),
                  (31.4, 5.1, "GaS"), (35.7, 5.7, "In1"), (8.0, 3.7, "P1"), (10.7, 0.9, "P"),
                  (23.7, 0.9, "P"), (40.1, 0.75, "P1")]:
    lab(ax6, x, y, s)
axlabels(ax6, "SPUTTER TIME, min.", "PEAK-TO-PEAK", 6)
ftext(692, 918, "AES PROFILE Y/F ALT.  10/20/93  EL-Ai1  AE")
ftext(692, 938, "FILE: AA1111  rot-0nm tilt=0 3kV AP44")
ftext(692, 960, "SCALE FACTOR= 130.715 k c/s.   OFFSET=  0.0")
title(903, 958, "BJ-s")

# ---------------- Panel 7 : AT-r (bottom left)
ax7 = make_axes(62, 1381, 577, 1613, (-6.4, 120), (0, 101.3), list(range(0, 121, 20)),
                list(range(0, 101, 10)), 5, 5, pre=p7_pre)
for c in (p7_P, p7_In, p7_As, p7_Ga):
    curve(ax7, c)
for (x, y, s) in [(12.8, 58, "As"), (13.0, 36, "Ga"), (13.2, 17.5, "In"), (12.3, 4.5, "P"),
                  (24.2, 57, "P"), (51.5, 44.5, "As"), (52.2, 32.5, "Ga"), (52.2, 20, "In"),
                  (52.0, 10, "P")]:
    lab(ax7, x, y, s)
ax7.text(29.3, 92.4, "Sample InP/15nm/GaInAs(5nm-8Pairs)/InP", fontsize=4.6, family=MONO,
         weight="bold", color=INK, va="center")
ax7.text(79.9, 92.6, "ラスター", fontsize=11, family=JP, color=INK, va="center")
ax7.text(113.8, 96.8, "YAMAS-SCA", fontsize=4.6, family=MONO, weight="bold", color=INK, va="center")
for i, s in enumerate(["Ip=3.0keV", "Tilt=37°", "Raster=1.5mm x1.5mm", "Gas=Ar,15mPa."]):
    ax7.text(92, 68.4 - i * 3.0, s, fontsize=4.6, family=MONO, weight="bold", color=INK, va="center")
axlabels(ax7, "SPUTTER TIME, min.", "A. C. (at%)", 3, 14)
ftext(65, 1322, "AES PROFILE Y/F ALT.     9/25/93  EL-Ai1")
ftext(65, 1342, "FILE: AA6#18   YAMAS-SCA InP/GaInAs")
ftext(65, 1363, "SCALE FACTOR=  0.033 k c/s.   OFFSET=  0....")
ftext(388, 1363, "BV=3.00kV  BI=0.0000uA")
title(267, 1350, "AT-r")

# ---------------- Panel 8 : BJ-r (bottom right)
ax8 = make_axes(684, 1370, 1189, 1603, (-13, 222), (0, 10.17), [0, 50, 100, 150, 200],
                list(range(11)), 10, 0.5, pre=p8_pre)
for c in (p8_P, p8_In, p8_Ga):
    curve(ax8, c)
for (x, y, s) in [(33, 8.5, "Ga"), (33, 5.1, "I~"), (55.5, 5.6, "In1"), (69, 9.7, "P1"),
                  (75, 7.1, "GaS"), (93.4, 4.9, "In1"), (114, 6.8, "GaS"), (131, 6.2, "In1"),
                  (154, 8.1, "In1"), (170, 7.85, "In1"), (194.6, 9.5, "GaS"), (31, 2.5, "P1"),
                  (81.7, 0.85, "P"), (127.7, 1.8, "P"), (146.7, 4.5, "P1"), (9.5, 8.9, "P")]:
    lab(ax8, x, y, s)
leader(ax8, (9.8, 9.2), (12.5, 9.85))
axlabels(ax8, "SPUTTER TIME, min.", "PEAK-TO-PEAK", 5)
ftext(688, 1322, "AES PROFILE Y/F ALT.  10/19/93  EL-Ai1  AES")
ftext(688, 1342, "FILE: AA3101  rot-5x5mm tilt=0 3kV AP44")
ftext(688, 1360, "SCALE FACTOR= 141.850 k c/s.   OFFSET=  0.000")
title(903, 1343, "BJ-r")

fig.savefig("out.png", dpi=100, facecolor="white")
